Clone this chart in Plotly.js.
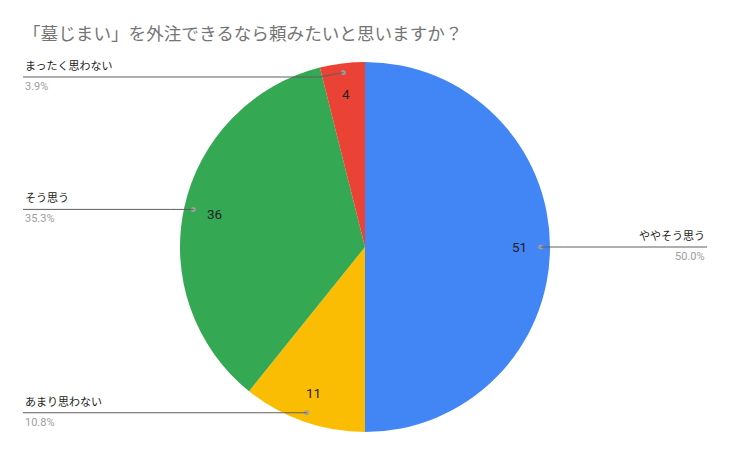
<!DOCTYPE html>
<html>
<head>
<meta charset="utf-8">
<script src="https://cdn.plot.ly/plotly-3.0.1.min.js"></script>
<style>html,body{margin:0;padding:0;background:#fff;}#chart{width:730px;height:454px;}</style>
</head>
<body>
<div id="chart"></div>
<script>
// ---- data ----
const titleText = '「墓じまい」を外注できるなら頼みたいと思いますか？';
const categories = ['ややそう思う', 'あまり思わない', 'そう思う', 'まったく思わない'];
const values = [51, 11, 36, 4];
const colors = ['#4285F4', '#FBBC04', '#34A853', '#EA4335'];

// ---- layout config (pixels) ----
const W = 730, H = 454;
const CX = 365, CY = 247, R = 185;
// label placement per category: side and y of the underline (null = at dot)
const labelSide = ['right', 'left', 'left', 'left'];
const labelLineY = [null, null, null, 77];
const leftX = 23, rightX = 707;
const FONT = 'Roboto, "Noto Sans CJK JP", sans-serif';

const px = x => x / W;
const py = y => 1 - y / H;

const total = values.reduce((a, b) => a + b, 0);
let cum = 0;
const annotations = [];
const shapes = [];
values.forEach((v, i) => {
  const mid = (cum + v / 2) / total * 2 * Math.PI; // clockwise from top
  cum += v;
  const sx = Math.sin(mid), sy = -Math.cos(mid);
  // value text
  annotations.push({
    xref: 'paper', yref: 'paper', x: px(CX + sx * R * 0.835), y: py(CY + sy * R * 0.835),
    text: String(v), showarrow: false, xanchor: 'center', yanchor: 'middle',
    font: {family: FONT, size: 13.5, color: '#222'}
  });
  // leader dot
  const dx = CX + sx * R * 0.95, dy = CY + sy * R * 0.95;
  shapes.push({
    type: 'circle', xref: 'paper', yref: 'paper',
    x0: px(dx - 2.5), x1: px(dx + 2.5), y0: py(dy - 2.5), y1: py(dy + 2.5),
    fillcolor: 'rgba(160,160,160,0.9)', line: {width: 0}
  });
  const ly = labelLineY[i] === null ? dy : labelLineY[i];
  const isLeft = labelSide[i] === 'left';
  const lx = isLeft ? leftX : rightX;
  const ex = isLeft ? dx - 23 : dx + 23;
  shapes.push({
    type: 'path', xref: 'paper', yref: 'paper',
    path: `M ${px(lx)},${py(ly)} L ${px(ex)},${py(ly)} L ${px(dx)},${py(dy)}`,
    line: {color: '#5f5f5f', width: 1}
  });
  const pct = (v / total * 100).toFixed(1) + '%';
  annotations.push({
    xref: 'paper', yref: 'paper', x: px(lx), y: py(ly - 2),
    text: categories[i], showarrow: false,
    xanchor: isLeft ? 'left' : 'right', yanchor: 'bottom',
    font: {family: FONT, size: 11, color: '#222'}
  });
  annotations.push({
    xref: 'paper', yref: 'paper', x: px(lx), y: py(ly + 1),
    text: pct, showarrow: false,
    xanchor: isLeft ? 'left' : 'right', yanchor: 'top',
    font: {family: FONT, size: 11, color: '#9e9e9e'}
  });
});

const trace = {
  type: 'pie',
  labels: categories,
  values: values,
  sort: false,
  direction: 'clockwise',
  rotation: 0,
  marker: {colors: colors, line: {width: 0}},
  textinfo: 'none',
  hoverinfo: 'label+value+percent',
  showlegend: false,
  domain: {x: [px(CX - R), px(CX + R)], y: [py(CY + R), py(CY - R)]}
};

const layout = {
  width: W, height: H,
  margin: {l: 0, r: 0, t: 0, b: 0},
  paper_bgcolor: '#fff',
  title: {
    text: titleText,
    x: px(23), xref: 'container', xanchor: 'left',
    y: 1 - 34 / H, yref: 'container', yanchor: 'middle',
    font: {family: FONT, size: 17.6, color: '#757575'}
  },
  showlegend: false,
  annotations: annotations,
  shapes: shapes
};

Plotly.newPlot('chart', [trace], layout, {displayModeBar: false, staticPlot: true});
</script>
</body>
</html>
